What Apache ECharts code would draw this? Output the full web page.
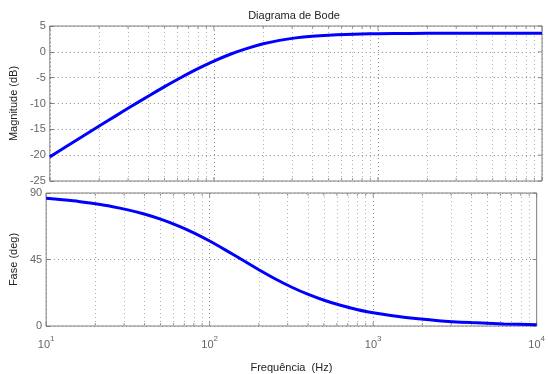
<!DOCTYPE html>
<html>
<head>
<meta charset="utf-8">
<script src="https://cdn.jsdelivr.net/npm/echarts@6/dist/echarts.min.js"></script>
<style>html,body{margin:0;padding:0;background:#fff;}#c{width:548px;height:374px;}</style>
</head>
<body>
<div id="c"></div>
<script>
const titleText = 'Diagrama de Bode';
const xName = 'Frequência  (Hz)';
const magName = 'Magnitude (dB)';
const phaseName = 'Fase (deg)';
const freqs = [10, 12.6, 15.8, 20, 25.1, 31.6, 39.8, 50.1, 63.1, 79.4, 100, 126, 158, 200, 251, 316, 398, 501, 631, 794, 1000, 1585, 2512, 3981, 6310, 10000];
const magnitudeDb = [-20.33, -18.34, -16.39, -14.37, -12.44, -10.50, -8.59, -6.74, -4.97, -3.31, -1.80, -0.47, 0.61, 1.55, 2.22, 2.70, 3.02, 3.23, 3.37, 3.46, 3.51, 3.57, 3.59, 3.60, 3.60, 3.60];
const phaseDeg = [86.4, 85.4, 84.3, 82.7, 80.9, 78.6, 75.8, 72.3, 68.1, 63.2, 57.5, 51.2, 44.8, 38.1, 32.0, 26.4, 21.5, 17.4, 14.0, 11.2, 8.9, 5.7, 3.6, 2.3, 1.4, 0.9];
const majorFreqs = [10, 100, 1000, 10000];
const minorFreqs = [20, 30, 40, 50, 60, 70, 80, 90, 200, 300, 400, 500, 600, 700, 800, 900, 2000, 3000, 4000, 5000, 6000, 7000, 8000, 9000];
const magTickValues = [-25, -20, -15, -10, -5, 0, 5];
const phaseTickValues = [0, 45, 90];
const magTicks = {min: -25, max: 5, interval: 5};
const phaseTicks = {min: 0, max: 90, interval: 45};
const freqRange = {min: 10, max: 10000};

const FONT = 'Liberation Sans';
const TICK_COLOR = '#7a7a7a';
const gridStyle = {show: true, borderColor: '#808080', borderWidth: 1, backgroundColor: '#fff'};
const majorSplit = {show: true, lineStyle: {color: '#8a8a8a', type: [1, 3], width: 1}};
const minorLine = {
  silent: true, symbol: 'none', animation: false,
  label: {show: false},
  lineStyle: {color: '#b0b0b0', type: [1, 3], width: 1},
  data: minorFreqs.map(v => ({xAxis: v}))
};

function xAxisCfg(idx, showLabels) {
  return {
    type: 'log', logBase: 10, gridIndex: idx, min: freqRange.min, max: freqRange.max,
    axisLine: {show: false},
    axisTick: {show: false},
    splitLine: majorSplit,
    name: showLabels ? xName : '',
    nameLocation: 'middle', nameGap: 36,
    nameTextStyle: {fontFamily: FONT, fontSize: 11, color: '#222'},
    axisLabel: {
      show: showLabels, margin: 9,
      formatter: v => '{b|10}{s|' + Math.round(Math.log10(v)) + '}',
      rich: {
        b: {fontFamily: FONT, fontSize: 11, color: '#666'},
        s: {fontFamily: FONT, fontSize: 8, color: '#666', padding: [0, 0, 12, 0]}
      }
    }
  };
}
function yAxisCfg(idx, ticks, name) {
  return {
    type: 'value', gridIndex: idx, min: ticks.min, max: ticks.max, interval: ticks.interval,
    axisLine: {show: false},
    axisTick: {show: true, inside: true, length: 4, lineStyle: {color: TICK_COLOR}},
    splitLine: majorSplit,
    name: name, nameLocation: 'middle', nameGap: 27,
    nameTextStyle: {fontFamily: FONT, fontSize: 11, color: '#222'},
    axisLabel: {fontFamily: FONT, fontSize: 11, color: '#666', margin: 4}
  };
}

// inner tick marks on the frame (MATLAB-style), placed through the axes
function frameTicks(idx, ticks, yTickValues) {
  const out = [];
  const mk = (data, size, offset) => ({
    type: 'scatter', xAxisIndex: idx, yAxisIndex: idx, silent: true, z: 3,
    symbol: 'rect', symbolSize: size, symbolOffset: offset,
    itemStyle: {color: TICK_COLOR}, data: data
  });
  out.push(mk(minorFreqs.map(f => [f, ticks.min]), [1, 3], [0, -1.5]));
  out.push(mk(minorFreqs.map(f => [f, ticks.max]), [1, 3], [0, 1.5]));
  out.push(mk(majorFreqs.map(f => [f, ticks.min]), [1, 4], [0, -2]));
  out.push(mk(majorFreqs.map(f => [f, ticks.max]), [1, 4], [0, 2]));
  out.push(mk(yTickValues.map(v => [freqRange.max, v]), [4, 1], [-2, 0]));
  return out;
}

const chart = echarts.init(document.getElementById('c'), null, {renderer: 'canvas'});
chart.setOption({
  animation: false,
  backgroundColor: '#fff',
  title: {
    text: titleText, left: 289, top: 5, textAlign: 'center',
    textStyle: {fontFamily: FONT, fontSize: 11, fontWeight: 'normal', color: '#222'}
  },
  grid: [
    Object.assign({left: 46, top: 26, width: 496, height: 155}, gridStyle),
    Object.assign({left: 46, top: 193, width: 496, height: 134}, gridStyle)
  ],
  xAxis: [xAxisCfg(0, false), xAxisCfg(1, true)],
  yAxis: [yAxisCfg(0, magTicks, magName), yAxisCfg(1, phaseTicks, phaseName)],
  series: [
    {
      type: 'line', xAxisIndex: 0, yAxisIndex: 0, showSymbol: false, smooth: 0.2,
      lineStyle: {color: '#0000ff', width: 3}, z: 5,
      data: freqs.map((f, i) => [f, magnitudeDb[i]]),
      markLine: minorLine
    },
    {
      type: 'line', xAxisIndex: 1, yAxisIndex: 1, showSymbol: false, smooth: 0.2,
      lineStyle: {color: '#0000ff', width: 3}, z: 5,
      data: freqs.map((f, i) => [f, phaseDeg[i]]),
      markLine: minorLine
    }
  ].concat(frameTicks(0, magTicks, magTickValues), frameTicks(1, phaseTicks, phaseTickValues))
});
</script>
</body>
</html>
